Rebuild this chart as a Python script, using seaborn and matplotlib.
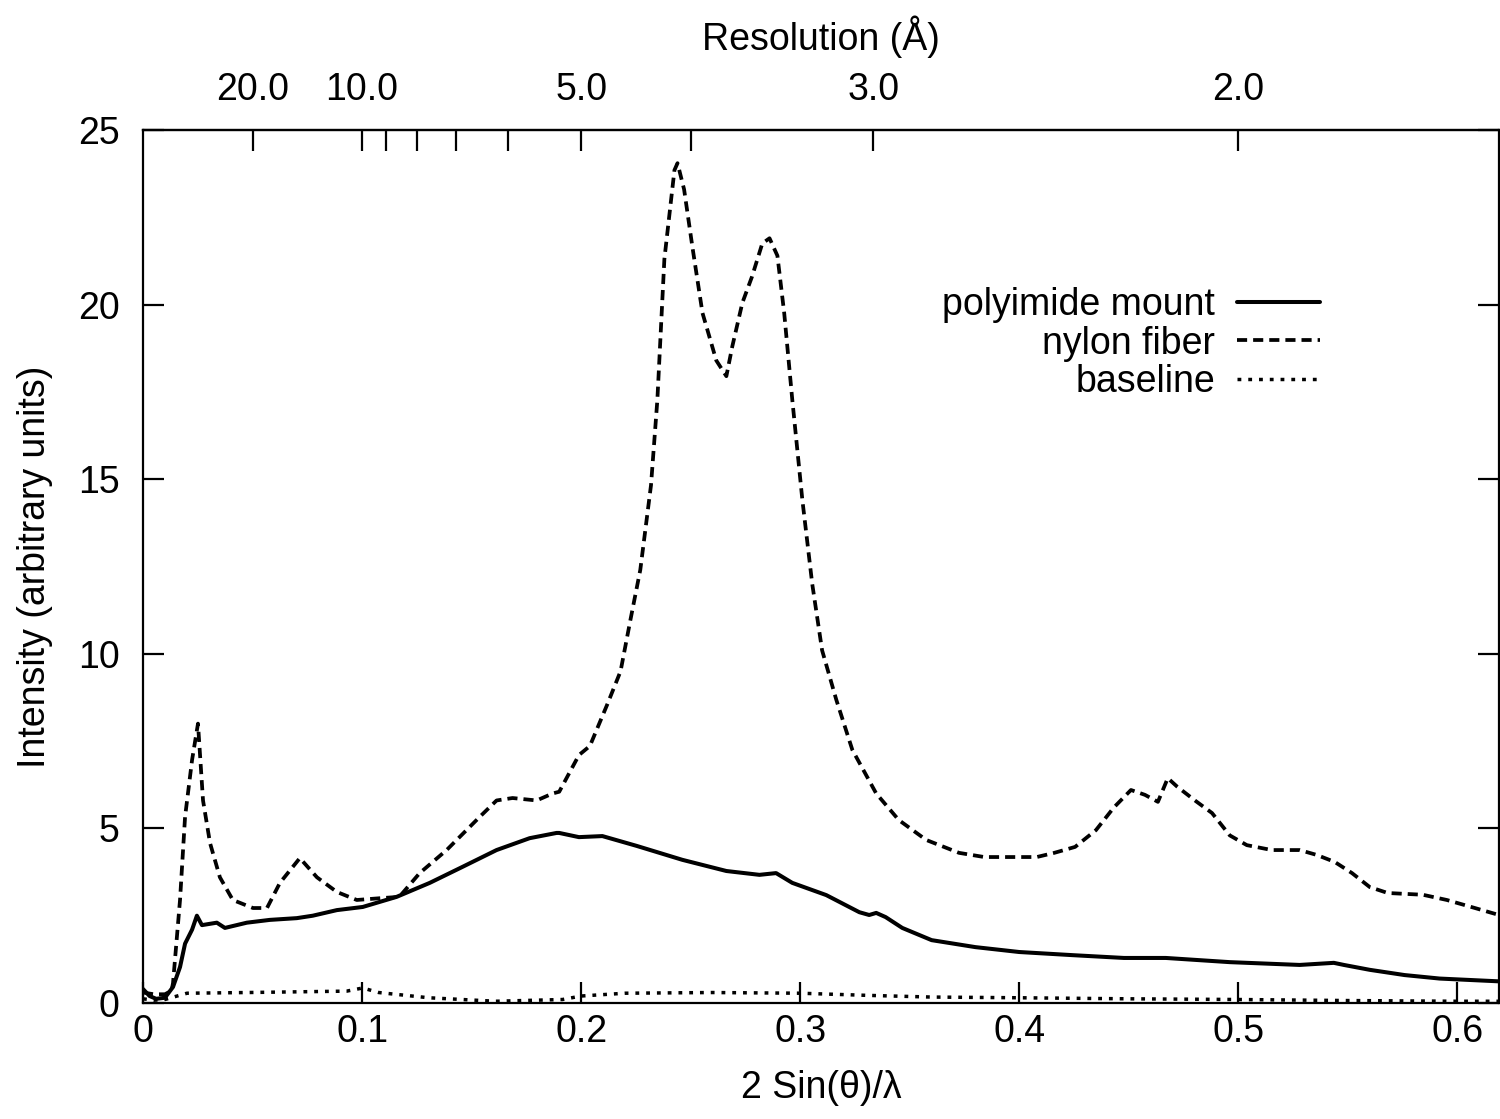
import numpy as np
import pandas as pd
import matplotlib
matplotlib.use("Agg")
import matplotlib.pyplot as plt
import seaborn as sns

# ---------------- data ----------------
nylon_x = [0.0, 0.005, 0.010, 0.013, 0.0137, 0.0169, 0.0192, 0.0224, 0.0251, 0.0274,
           0.0306, 0.0351, 0.041, 0.0502, 0.0566, 0.0625, 0.0716, 0.0794, 0.0885, 0.0976,
           0.108, 0.117, 0.1263, 0.1386, 0.1537, 0.1614, 0.1687, 0.1797, 0.187, 0.190,
           0.199, 0.204, 0.2118, 0.218, 0.2225, 0.227, 0.2319, 0.2348, 0.238, 0.2426,
           0.2440, 0.247, 0.2508, 0.2554, 0.2617, 0.2663, 0.269, 0.2736, 0.278, 0.2827,
           0.286, 0.2896, 0.2927, 0.2964, 0.301, 0.3055, 0.310, 0.3165, 0.3238, 0.3347,
           0.345, 0.3575, 0.3725, 0.384, 0.408, 0.416, 0.4255, 0.435, 0.4432, 0.451,
           0.4574, 0.4633, 0.4678, 0.472, 0.4802, 0.488, 0.4961, 0.5039, 0.5153, 0.528,
           0.5358, 0.544, 0.5519, 0.560, 0.5682, 0.5842, 0.5952, 0.608, 0.619]
nylon_y = [0.30, 0.25, 0.25, 0.35, 0.57, 2.95, 5.33, 6.96, 8.0, 5.8,
           4.58, 3.6, 2.95, 2.72, 2.72, 3.44, 4.15, 3.6, 3.18, 2.95,
           3.0, 3.04, 3.72, 4.38, 5.33, 5.8, 5.87, 5.8, 6.0, 6.05,
           7.1, 7.36, 8.53, 9.5, 10.97, 12.4, 14.83, 17.27, 21.3, 23.85,
           24.05, 23.3, 21.65, 19.76, 18.4, 17.95, 18.8, 20.05, 20.8, 21.75,
           21.9, 21.4, 19.76, 17.27, 14.4, 12.0, 10.1, 8.68, 7.25, 6.0,
           5.24, 4.67, 4.3, 4.18, 4.18, 4.3, 4.47, 4.95, 5.6, 6.1,
           5.96, 5.76, 6.44, 6.2, 5.8, 5.44, 4.8, 4.52, 4.38, 4.38,
           4.24, 4.04, 3.72, 3.32, 3.15, 3.1, 2.95, 2.72, 2.52]

poly_x = [0.0, 0.003, 0.006, 0.010, 0.0137, 0.0169, 0.0192, 0.0224, 0.0246, 0.0269,
          0.0337, 0.0374, 0.0474, 0.0579, 0.0702, 0.0775, 0.0885, 0.1003, 0.1158, 0.1309,
          0.1459, 0.1614, 0.1765, 0.1888, 0.190, 0.199, 0.2097, 0.2253, 0.2462, 0.2663,
          0.2814, 0.289, 0.2964, 0.3119, 0.327, 0.3315, 0.3347, 0.339, 0.3466, 0.360,
          0.380, 0.4, 0.4244, 0.4478, 0.4669, 0.4961, 0.528, 0.5436, 0.5482, 0.5600,
          0.5759, 0.5919, 0.619]
poly_y = [0.40, 0.20, 0.12, 0.15, 0.46, 1.03, 1.7, 2.1, 2.5, 2.23,
          2.3, 2.15, 2.3, 2.38, 2.43, 2.5, 2.66, 2.75, 3.04, 3.44,
          3.9, 4.38, 4.72, 4.87, 4.87, 4.75, 4.78, 4.5, 4.1, 3.78,
          3.67, 3.72, 3.44, 3.09, 2.6, 2.52, 2.58, 2.46, 2.15, 1.8,
          1.6, 1.46, 1.37, 1.29, 1.29, 1.17, 1.09, 1.15, 1.09, 0.95,
          0.8, 0.7, 0.62]

base_x = [0.0, 0.005, 0.010, 0.0201, 0.0478, 0.0930, 0.1003, 0.1076, 0.1304, 0.1610,
          0.1915, 0.2000, 0.2200, 0.2600, 0.3000, 0.3300, 0.3600, 0.4000, 0.4500, 0.5000,
          0.5500, 0.6000, 0.619]
base_y = [0.12, 0.08, 0.10, 0.28, 0.30, 0.34, 0.43, 0.30, 0.15, 0.05,
          0.10, 0.20, 0.28, 0.30, 0.28, 0.22, 0.17, 0.15, 0.12, 0.10,
          0.07, 0.05, 0.05]

series_names = ["polyimide mount", "nylon fiber", "baseline"]

x_ticks = [0.0, 0.1, 0.2, 0.3, 0.4, 0.5, 0.6]
x_tick_labels = ["0", "0.1", "0.2", "0.3", "0.4", "0.5", "0.6"]
y_ticks = [0, 5, 10, 15, 20, 25]
res_ticks = [20.0, 10.0, 9.0, 8.0, 7.0, 6.0, 5.0, 4.0, 3.0, 2.0]
res_labels = ["20.0", "10.0", "", "", "", "", "5.0", "", "3.0", "2.0"]

# ---------------- plotting ----------------
sns.set_style("ticks")
plt.rcParams["font.family"] = ["Liberation Sans", "DejaVu Sans"]
plt.rcParams["axes.linewidth"] = 1.6
plt.rcParams["text.color"] = "black"
plt.rcParams["axes.labelcolor"] = "black"

FS = 27

fig = plt.figure(figsize=(15, 11.19), dpi=100)
ax = fig.add_axes([143 / 1500, 1 - 1003 / 1119, (1499 - 143) / 1500, (1003 - 130) / 1119])

df_poly = pd.DataFrame({"x": poly_x, "y": poly_y})
df_nyl = pd.DataFrame({"x": nylon_x, "y": nylon_y})
df_base = pd.DataFrame({"x": base_x, "y": base_y})

sns.lineplot(data=df_poly, x="x", y="y", ax=ax, color="black", lw=2.9,
             label=series_names[0], sort=False)
sns.lineplot(data=df_nyl, x="x", y="y", ax=ax, color="black", lw=2.7,
             linestyle=(0, (2.7, 1.6)), label=series_names[1], sort=False)
sns.lineplot(data=df_base, x="x", y="y", ax=ax, color="black", lw=2.5,
             linestyle=(0, (1.1, 2.0)), label=series_names[2], sort=False)

ax.set_xlim(0, 0.619)
ax.set_ylim(0, 25)
ax.set_xticks(x_ticks)
ax.set_xticklabels(x_tick_labels)
ax.set_yticks(y_ticks)
ax.tick_params(axis="both", which="both", direction="in", length=15, width=1.6,
               labelsize=FS, colors="black")
ax.tick_params(axis="x", pad=8, top=False)
ax.tick_params(axis="y", pad=17, right=True)
for s in ax.spines.values():
    s.set_visible(True)
    s.set_color("black")

ax.set_xlabel("2 Sin(\u03b8)/\u03bb", fontsize=FS, labelpad=14)
ax.set_ylabel("Intensity (arbitrary units)", fontsize=FS, labelpad=18)

# top resolution axis
sec = ax.secondary_xaxis("top")
sec.set_xticks([1.0 / r for r in res_ticks])
sec.set_xticklabels(res_labels)
sec.tick_params(direction="in", length=15, width=1.6, labelsize=FS, pad=16,
                colors="black")
sec.set_xlabel("Resolution (\u00c5)", fontsize=FS, labelpad=16)

leg = ax.legend(loc="upper right", bbox_to_anchor=(0.879, 0.837), frameon=False,
                markerfirst=False, fontsize=FS, handlelength=2.2, handletextpad=0.6,
                labelspacing=0.06, borderaxespad=0)
leg._legend_box.align = "right"

fig.savefig("out.png", dpi=100, facecolor="white")
